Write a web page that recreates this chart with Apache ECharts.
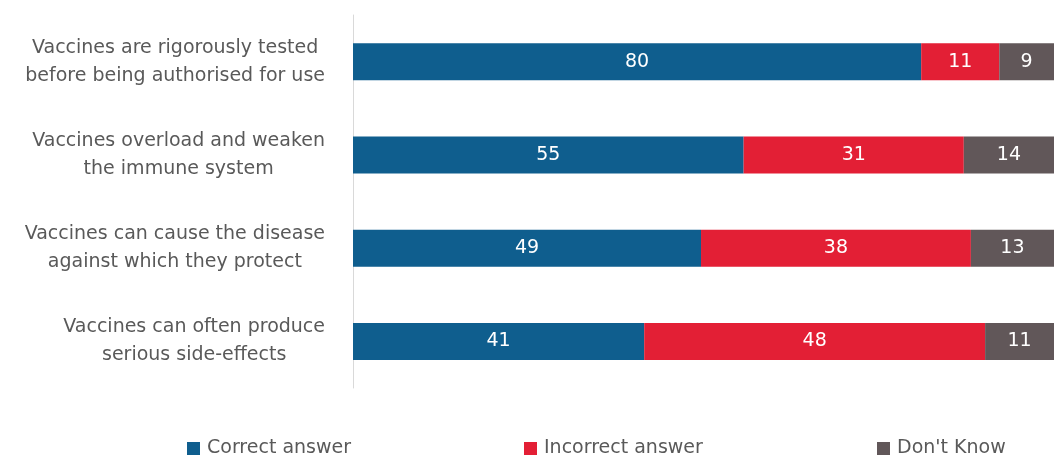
<!DOCTYPE html>
<html><head><meta charset="utf-8">
<script src="https://cdn.jsdelivr.net/npm/echarts@6/dist/echarts.min.js"></script>
<style>html,body{margin:0;padding:0;background:#fff}#c{width:1054px;height:457px}</style>
</head><body><div id="c"></div>
<script>
const categories = [
  "Vaccines are rigorously tested\nbefore being authorised for use",
  "Vaccines overload and weaken\nthe immune system",
  "Vaccines can cause the disease\nagainst which they protect",
  "Vaccines can often produce\nserious side-effects"
];
const correct = [80, 55, 49, 41];
const incorrect = [11, 31, 38, 48];
const dontKnow = [9, 14, 13, 11];
const seriesNames = ["Correct answer", "Incorrect answer", "Don't Know"];
const colors = ["#0F5E8E", "#E31F35", "#615759"];

const FONT = "DejaVu Sans";
const chart = echarts.init(document.getElementById('c'));
const mk = (name, data, color) => ({
  name, type: 'bar', stack: 'total', data, barWidth: 37,
  itemStyle: { color },
  label: { show: true, position: 'inside', color: '#fff', fontSize: 19, fontFamily: FONT },
  emphasis: { disabled: true }
});
const legendLefts = [187, 524, 877];
chart.setOption({
  animation: false,
  textStyle: { fontFamily: FONT },
  grid: { left: 353, right: 0, top: 15, bottom: 69 },
  xAxis: { type: 'value', min: 0, max: 98.7, show: false },
  yAxis: {
    type: 'category', data: categories, inverse: true,
    axisLine: { show: true, lineStyle: { color: '#d9d9d9', width: 1 } },
    axisTick: { show: false },
    axisLabel: {
      margin: 28, color: '#595959', fontSize: 19, fontFamily: FONT, lineHeight: 28, align: 'right',
      formatter: v => v.split('\n').map(s => '{a|' + s + '}').join('\n'),
      rich: { a: { align: 'center', fontSize: 19, lineHeight: 28, color: '#595959', fontFamily: FONT } }
    }
  },
  legend: seriesNames.map((n, i) => ({
    data: [n], left: legendLefts[i], top: 439, itemWidth: 13, itemHeight: 13, itemGap: 0,
    icon: 'rect', selectedMode: false, padding: 0,
    textStyle: { color: '#595959', fontSize: 19, fontFamily: FONT, padding: [0, 0, 0, 2] }
  })),
  series: [mk(seriesNames[0], correct, colors[0]), mk(seriesNames[1], incorrect, colors[1]), mk(seriesNames[2], dontKnow, colors[2])]
});
</script></body></html>
